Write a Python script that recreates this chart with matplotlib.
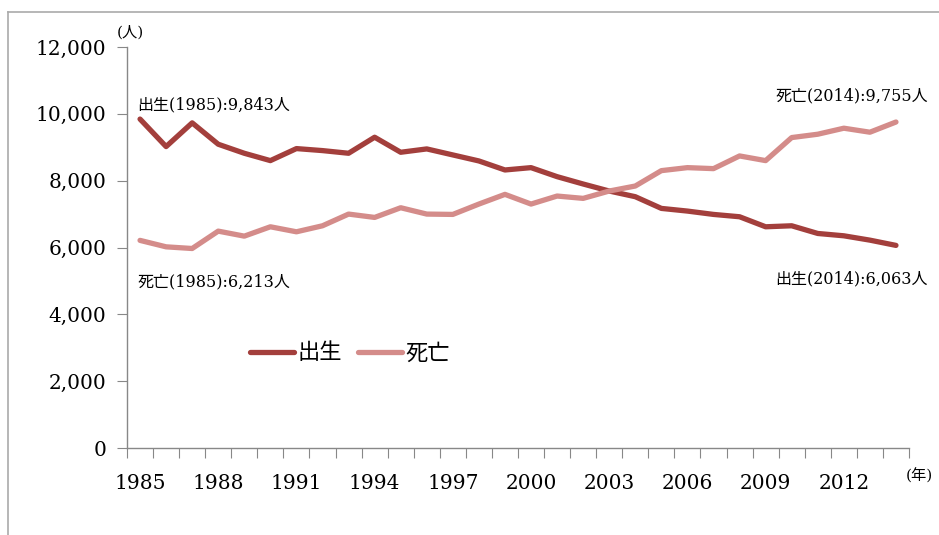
import matplotlib.pyplot as plt
from matplotlib.lines import Line2D

years = list(range(1985, 2015))
births = [9843, 9020, 9730, 9090, 8820, 8600, 8960, 8900, 8820, 9300,
          8850, 8950, 8770, 8590, 8320, 8390, 8120, 7900, 7690, 7520,
          7170, 7090, 6990, 6920, 6620, 6650, 6420, 6350, 6220, 6063]
deaths = [6213, 6020, 5970, 6490, 6340, 6620, 6470, 6650, 7000, 6900,
          7190, 7000, 6990, 7300, 7590, 7300, 7540, 7470, 7690, 7840,
          8300, 8390, 8360, 8740, 8600, 9290, 9390, 9570, 9450, 9755]
year_labels = [str(y) for y in years[::3]]

serif_jp = ['DejaVu Serif', 'Noto Sans CJK JP']
sans_jp = ['Noto Sans CJK JP', 'DejaVu Sans']

W, H = 939, 535
fig = plt.figure(figsize=(W / 100, H / 100), dpi=100)
ax = fig.add_axes([127 / W, 1 - 448 / H, (909 - 127) / W, (448 - 47) / H])

# 外枠（左と上だけ見えている）
fig.add_artist(Line2D([8 / W, 8 / W], [0, 1 - 12 / H], color='#aaaaaa', lw=1.2))
fig.add_artist(Line2D([8 / W, 1], [1 - 12 / H, 1 - 12 / H], color='#aaaaaa', lw=1.2))

x = list(range(len(years)))
c_birth = '#a33f3c'
c_death = '#d48c8a'
ax.plot(x, births, color=c_birth, lw=3.8, label='出生', solid_capstyle='round')
ax.plot(x, deaths, color=c_death, lw=3.8, label='死亡', solid_capstyle='round')

ax.set_xlim(-0.5, len(years) - 0.5)
ax.set_ylim(0, 12000)
ax.set_yticks(range(0, 12001, 2000))
ax.set_yticklabels([f'{v:,}' for v in range(0, 12001, 2000)],
                   family='DejaVu Serif', fontsize=14.5)

# 目盛り線は区切り位置、ラベルは各年の中央
ax.set_xticks([i - 0.5 for i in range(len(years) + 1)])
ax.set_xticklabels([])
ax.set_xticks(x[::3], minor=True)
ax.set_xticklabels(year_labels, minor=True, family='DejaVu Serif', fontsize=14.5)
ax.tick_params(axis='x', which='major', length=7, color='#888888', direction='out')
ax.tick_params(axis='x', which='minor', length=0, pad=19)
ax.tick_params(axis='y', length=7, color='#888888', pad=8)

for s in ['top', 'right']:
    ax.spines[s].set_visible(False)
for s in ['left', 'bottom']:
    ax.spines[s].set_color('#888888')
    ax.spines[s].set_linewidth(1.0)

fig.text(117 / W, 1 - 32 / H, '(人)', family=serif_jp, fontsize=11, ha='left', va='center')
fig.text(906 / W, 1 - 476 / H, '(年)', family=serif_jp, fontsize=11, ha='left', va='center')

ann = dict(fontsize=11.5, family=serif_jp, textcoords='offset points', va='center')
ax.annotate(f'出生({years[0]}):{births[0]:,}人', xy=(0, births[0]), xytext=(-2, 10), ha='left', **ann)
ax.annotate(f'死亡({years[0]}):{deaths[0]:,}人', xy=(0, deaths[0]), xytext=(-2, -30), ha='left', **ann)
ax.annotate(f'死亡({years[-1]}):{deaths[-1]:,}人', xy=(x[-1], deaths[-1]), xytext=(23, 19), ha='right', **ann)
ax.annotate(f'出生({years[-1]}):{births[-1]:,}人', xy=(x[-1], births[-1]), xytext=(23, -24), ha='right', **ann)

ax.legend(loc='center left', bbox_to_anchor=(0.157, 0.237), frameon=False,
          prop={'family': sans_jp, 'size': 16}, handlelength=2.0, handletextpad=0.15,
          columnspacing=0.7, ncol=2, borderpad=0, borderaxespad=0)

fig.savefig('out.png', dpi=100)
